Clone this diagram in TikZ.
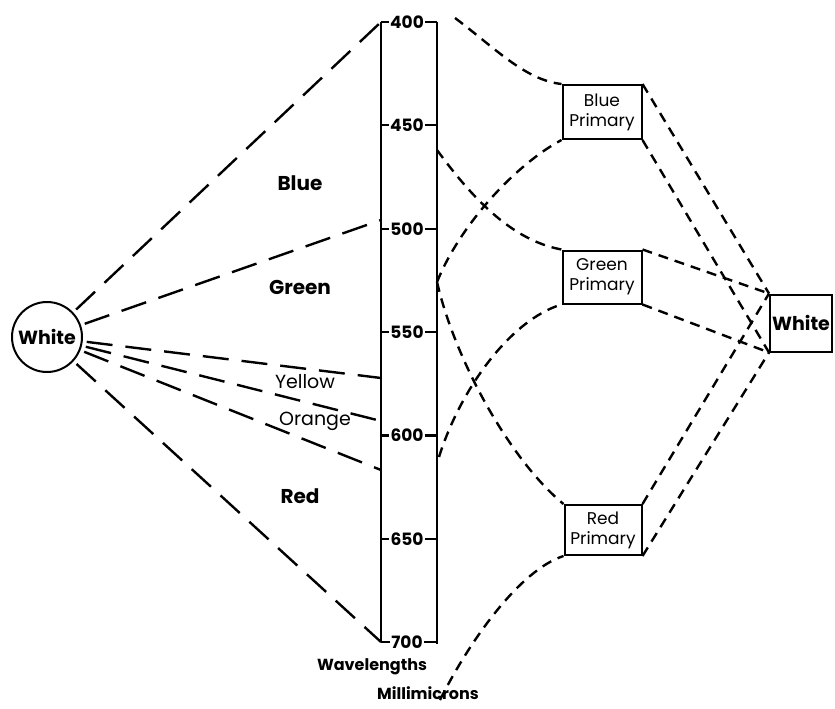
\documentclass[tikz,border=0pt]{standalone}
\usepackage{fontspec}
\setmainfont{Poppins}
\usepackage{tikz}

\begin{document}
\begin{tikzpicture}[x=1pt,y=-1pt,
  bar/.style={line width=2.2pt},
  longdash/.style={line width=2.4pt,dash pattern=on 26pt off 13pt,shorten <=4pt},
  shortdash/.style={line width=2.4pt,dash pattern=on 10pt off 7pt},
  primbox/.style={draw,line width=2pt,minimum width=79pt,minimum height=54pt,
    align=center,inner sep=1pt,font=\fontsize{17}{20}\selectfont},
  band/.style={font=\fontsize{20}{23}\selectfont\bfseries},
  thinband/.style={font=\fontsize{19}{22}\selectfont},
  wave/.style={font=\fontsize{17}{20}\selectfont\bfseries,inner sep=1pt}]
  \useasboundingbox (0,0) rectangle (835,709);

  % the scale
  \draw[bar] (381,22) -- (381,642);
  \draw[bar] (437,22) -- (437,644);
  \foreach \lam in {400,450,...,700}{
    \pgfmathsetmacro{\yy}{22+(\lam-400)*2.067}
    \node[wave] (w\lam) at (407,\yy) {\lam};
    \draw[bar] (381,\yy) -- (w\lam.west);
    \draw[bar] (w\lam.east) -- (437,\yy);
  }
  \node[font=\fontsize{16}{20}\selectfont\bfseries] (wl) at (372,667) {Wavelengths};
  \node[font=\fontsize{16}{20}\selectfont\bfseries] (mm) at (428,693) {Millimicrons};

  % white light split into bands
  \node[circle,draw,line width=2pt,minimum size=70pt,inner sep=0pt,
    font=\fontsize{19}{22}\selectfont\bfseries] (wc) at (47,337) {White};
  \coordinate (l400) at (381,22);
  \coordinate (l495) at (381,220);
  \coordinate (l575) at (381,378);
  \coordinate (l595) at (381,421);
  \coordinate (l617) at (381,470);
  \coordinate (l700) at (381,642);
  \foreach \e in {l400,l495,l575,l595,l617,l700}
    \draw[longdash] (wc) -- (\e);
  \node[band] (blue) at (300,183) {Blue};
  \node[band] (green) at (300,287) {Green};
  \node[thinband] (yellow) at (305,382) {Yellow};
  \node[thinband] (orange) at (315,421) {Orange};
  \node[band] (red) at (300,496) {Red};

  % primaries
  \node[primbox] (bp) at (602,112) {Blue\\Primary};
  \node[primbox,minimum height=53pt] (gp) at (602,277) {Green\\Primary};
  \node[primbox,minimum width=77pt,minimum height=50pt] (rp) at (603,530) {Red\\Primary};
  \node[draw,line width=2pt,minimum width=62pt,minimum height=57pt,inner sep=1pt,
    font=\fontsize{19}{22}\selectfont\bfseries] (wb) at (801,323) {White};

  \coordinate (r400) at (455,18);
  \coordinate (r460) at (437,150);
  \coordinate (r525) at (437,282);
  \coordinate (r610) at (439,457);
  \coordinate (r700) at (440,700);
  \draw[shortdash] (r400) .. controls (495,48) and (525,80) .. (bp.north west);
  \draw[shortdash] (r525) .. controls (460,225) and (515,165) .. (bp.south west);
  \draw[shortdash] (r460) .. controls (470,195) and (510,240) .. (gp.north west);
  \draw[shortdash] (r610) .. controls (460,390) and (510,320) .. (gp.south west);
  \draw[shortdash] (r525) .. controls (455,360) and (510,460) .. (rp.north west);
  \draw[shortdash] (r700) .. controls (470,640) and (520,570) .. (rp.south west);

  \foreach \p in {bp,gp,rp}{
    \draw[shortdash] (\p.north east) -- (wb.north west);
    \draw[shortdash] (\p.south east) -- (wb.south west);
  }
\end{tikzpicture}
\end{document}
